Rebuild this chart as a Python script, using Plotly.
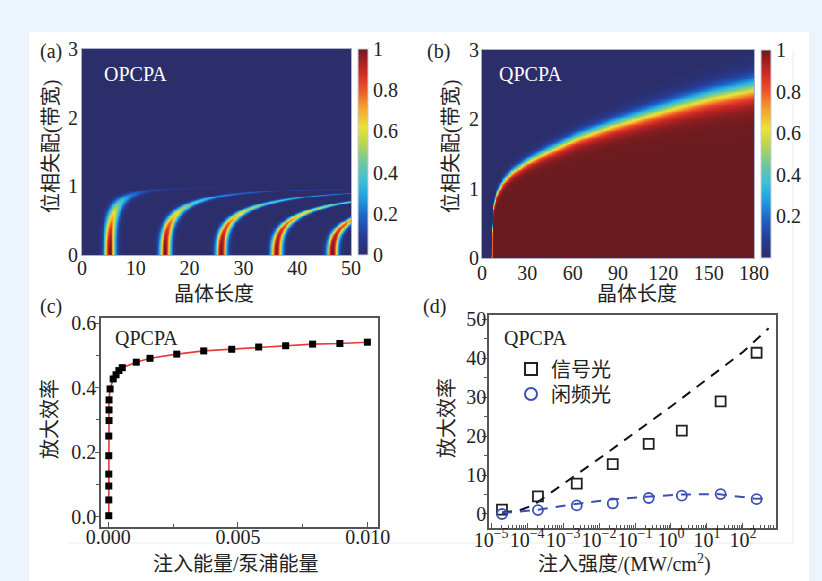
import numpy as np
import plotly.graph_objects as go

W, H = 822, 581

# ---------------- data ----------------
# (a) OPCPA map: positions of the conversion maxima (crystal length) at zero mismatch
a_band_L0 = [5.1, 15.4, 25.8, 36.1, 46.5]
a_band_w0 = 1.0          # half width of a band at zero mismatch
a_dk_crit = 1.0          # mismatch where bands run away
a_x_ticks = [0, 10, 20, 30, 40, 50]
a_y_ticks = [0, 1, 2, 3]

# (b) QPCPA map: boundary of the saturated (≈1) region, read along its edge
b_edge_L = [6.0, 6.3, 6.8, 7.6, 8.8, 10.6, 14.0, 19.4, 30.0, 41.5, 63.5, 85.6, 107.7, 129.7, 151.8, 180.0]
b_edge_dk = [0.0, 0.35, 0.60, 0.76, 0.88, 0.98, 1.11, 1.24, 1.40, 1.53, 1.75, 1.92, 2.07, 2.21, 2.34, 2.47]
b_x_ticks = [0, 30, 60, 90, 120, 150, 180]
b_y_ticks = [0, 1, 2, 3]

# (c) efficiency vs seed/pump energy ratio
c_ratio = [0.00002, 0.00002, 0.00002, 0.00002, 0.00002, 0.00002, 0.00003, 0.00003, 0.00003,
           0.00007, 0.00019, 0.00030, 0.00041, 0.00054, 0.00108, 0.00161, 0.00264, 0.00368,
           0.00476, 0.00580, 0.00684, 0.00788, 0.00893, 0.00999]
c_eff = [0.003, 0.052, 0.095, 0.132, 0.189, 0.250, 0.298, 0.331, 0.362,
         0.396, 0.427, 0.440, 0.453, 0.462, 0.479, 0.491, 0.504, 0.514,
         0.519, 0.526, 0.530, 0.535, 0.537, 0.541]

# (d) efficiency vs seed intensity
d_int = [2.0e-5, 2.0e-4, 2.4e-3, 2.4e-2, 2.4e-1, 2.0, 24.0, 240.0]
d_signal = [1.1, 4.5, 7.8, 12.8, 18.0, 21.4, 28.9, 41.4]
d_idler = [0.0, 1.0, 2.2, 2.7, 4.1, 4.7, 5.1, 3.8]
d_sim_sig_x = [2.0e-5, 6.0e-5, 1.5e-4, 1.0e-3, 1.0e-2, 1.0e-1, 1.0, 10.0, 100.0, 520.0]
d_sim_sig_y = [0.4, 0.9, 2.3, 7.6, 14.2, 20.9, 27.6, 34.6, 41.6, 47.7]
d_sim_idl_x = [2.0e-5, 6.0e-5, 2.0e-4, 2.0e-3, 2.0e-2, 2.0e-1, 2.0, 20.0, 200.0, 520.0]
d_sim_idl_y = [0.2, 0.6, 1.1, 2.5, 3.7, 4.4, 5.0, 5.1, 4.0, 3.8]
d_x_tickvals = [1e-5, 1e-4, 1e-3, 1e-2, 1e-1, 1e0, 1e1, 1e2]
d_x_ticktext = ['10<sup>−5</sup>', '10<sup>−4</sup>', '10<sup>−3</sup>', '10<sup>−2</sup>',
                '10<sup>−1</sup>', '10<sup>0</sup>', '10<sup>1</sup>', '10<sup>2</sup>']

# ---------------- build heat maps ----------------
aL = np.linspace(0, 50, 301)
aK = np.linspace(0, 3, 241)
LL, KK = np.meshgrid(aL, aK)
r = np.clip(KK / a_dk_crit, 0, 0.9995)
g = 1.0 / np.sqrt(1.0 - r ** 3)
amp = np.clip(1.0 - (KK / a_dk_crit) ** 2, 0, 1)
za = np.zeros_like(LL)
for L0 in a_band_L0:
    za += amp * np.exp(-((LL - L0 * g) / (a_band_w0 * g)) ** 2)
za = np.clip(za, 0, 1)
za[KK >= a_dk_crit] = 0
za = np.round(za, 3)

bL = np.linspace(0, 180, 361)
bK = np.linspace(0, 3, 241)
BL, BK = np.meshgrid(bL, bK)
edge = np.interp(BL, b_edge_L, b_edge_dk)
wk = 0.03 + 0.0004 * BL
zb = 1.0 / (1.0 + np.exp((BK - edge) / wk))
zb *= 1.0 / (1.0 + np.exp(-(BL - 6.1) / 0.3))
zb = np.round(zb, 3)

jet = [[0.0, '#2b2e6a'], [0.08, '#273a90'], [0.18, '#1f5fc2'], [0.28, '#229fe0'],
       [0.36, '#3cbfd6'], [0.45, '#70c89e'], [0.55, '#bcd84a'], [0.62, '#ece23a'],
       [0.72, '#f49e2a'], [0.80, '#ec5628'], [0.88, '#d52a26'], [0.95, '#9e1f22'],
       [1.0, '#6b1b1f']]

SERIF = 'Liberation Serif, Times New Roman, Noto Sans CJK SC, serif'
TXT = '#222222'


def px_x(p):
    return p / W


def px_y(p):
    return 1 - p / H


fig = go.Figure()

# (a)
fig.add_trace(go.Heatmap(
    x=aL, y=aK, z=za, colorscale=jet, zmin=0, zmax=1, zsmooth='best',
    xaxis='x', yaxis='y',
    colorbar=dict(x=px_x(358), xanchor='left', xpad=0, ypad=0, thickness=10,
                  len=206 / H, lenmode='fraction', y=(px_y(49) + px_y(255)) / 2, yanchor='middle',
                  tickvals=[0, 0.2, 0.4, 0.6, 0.8, 1], ticktext=['0', '0.2', '0.4', '0.6', '0.8', '1'],
                  ticks='', outlinewidth=1, outlinecolor='#c8cdd8',
                  tickfont=dict(family=SERIF, size=20, color=TXT))))
# (b)
fig.add_trace(go.Heatmap(
    x=bL, y=bK, z=zb, colorscale=jet, zmin=0, zmax=1, zsmooth='best',
    xaxis='x2', yaxis='y2',
    colorbar=dict(x=px_x(761), xanchor='left', xpad=0, ypad=0, thickness=10,
                  len=208 / H, lenmode='fraction', y=(px_y(50) + px_y(258)) / 2, yanchor='middle',
                  tickvals=[0.2, 0.4, 0.6, 0.8, 1], ticktext=['0.2', '0.4', '0.6', '0.8', '1'],
                  ticks='', outlinewidth=1, outlinecolor='#c8cdd8',
                  tickfont=dict(family=SERIF, size=20, color=TXT))))

# (c)
fig.add_trace(go.Scatter(x=c_ratio, y=c_eff, mode='lines+markers', xaxis='x3', yaxis='y3',
                         line=dict(color='#e8393c', width=1.6),
                         marker=dict(symbol='square', size=7, color='#000000'),
                         showlegend=False))

# (d)
fig.add_trace(go.Scatter(x=d_sim_sig_x, y=d_sim_sig_y, mode='lines', xaxis='x4', yaxis='y4',
                         line=dict(color='#111111', width=2, dash='10px,8px'), showlegend=False))
fig.add_trace(go.Scatter(x=d_sim_idl_x, y=d_sim_idl_y, mode='lines', xaxis='x4', yaxis='y4',
                         line=dict(color='#3c50b4', width=2, dash='10px,8px'), showlegend=False))
fig.add_trace(go.Scatter(x=d_int, y=d_signal, mode='markers', xaxis='x4', yaxis='y4', name='信号光',
                         legend='legend',
                         marker=dict(symbol='square-open', size=10, color='#222222', line=dict(width=1.8))))
fig.add_trace(go.Scatter(x=d_int, y=d_idler, mode='markers', xaxis='x4', yaxis='y4', name='闲频光',
                         legend='legend2',
                         marker=dict(symbol='circle-open', size=10, color='#3c50b4', line=dict(width=1.8))))

tickfont = dict(family=SERIF, size=20, color=TXT)
heat_axis = dict(showline=True, mirror=True, linecolor='#aab2c8', linewidth=1, ticks='',
                 showgrid=False, zeroline=False, tickfont=tickfont, tickangle=0, automargin=False)
frame = dict(showline=True, mirror=True, linecolor='#555555', linewidth=1.5,
             showgrid=False, zeroline=False, tickfont=tickfont, tickcolor='#555555', tickwidth=1.2,
             tickangle=0, automargin=False)

minor_log = []
for e in range(-6, 3):
    for k in range(2, 10):
        minor_log.append(k * 10.0 ** e)

leg_common = dict(xanchor='left', yanchor='middle', bgcolor='rgba(0,0,0,0)',
                  font=dict(family=SERIF, size=20, color=TXT), itemsizing='constant')

fig.update_layout(
    width=W, height=H, margin=dict(l=0, r=0, t=0, b=0, pad=0, autoexpand=False),
    paper_bgcolor='#ecf4fd', plot_bgcolor='#ffffff',
    xaxis=dict(domain=[px_x(82), px_x(351)], range=[0, 50], tickvals=a_x_ticks, anchor='y',
               ticklabelstandoff=-5, **heat_axis),
    yaxis=dict(domain=[px_y(255), px_y(49)], range=[0, 3], tickvals=a_y_ticks, anchor='x',
               ticklabelstandoff=-1, **heat_axis),
    xaxis2=dict(domain=[px_x(482), px_x(754)], range=[0, 180], tickvals=b_x_ticks, anchor='y2',
                ticklabelstandoff=-3, **heat_axis),
    yaxis2=dict(domain=[px_y(258), px_y(50)], range=[0, 3], tickvals=b_y_ticks, anchor='x2',
                ticklabelstandoff=-2, **heat_axis),
    xaxis3=dict(domain=[px_x(101), px_x(378)], range=[-0.00028, 0.0104], anchor='y3',
                tickvals=[0, 0.005, 0.01], ticktext=['0.000', '0.005', '0.010'],
                ticks='inside', ticklen=5, ticklabelstandoff=-9,
                minor=dict(tickvals=[0.0025, 0.0075], ticks='inside', ticklen=3, tickcolor='#555555'),
                **frame),
    yaxis3=dict(domain=[px_y(527), px_y(318)], range=[-0.032, 0.616], anchor='x3',
                tickvals=[0, 0.2, 0.4, 0.6], ticktext=['0.0', '0.2', '0.4', '0.6'],
                ticks='outside', ticklen=4, ticklabelstandoff=-5,
                minor=dict(tickvals=[0.1, 0.3, 0.5], ticks='outside', ticklen=3, tickcolor='#555555'),
                **frame),
    xaxis4=dict(domain=[px_x(489), px_x(776)], type='log', range=[-5.06, 2.92], anchor='y4',
                tickvals=d_x_tickvals, ticktext=d_x_ticktext, ticks='inside', ticklen=5,
                ticklabelstandoff=-7,
                minor=dict(tickvals=minor_log, ticks='inside', ticklen=3, tickcolor='#555555'),
                **frame),
    yaxis4=dict(domain=[px_y(528), px_y(315)], range=[-3.6, 51.1], anchor='x4',
                tickvals=[0, 10, 20, 30, 40, 50], ticks='outside', ticklen=5, ticklabelstandoff=-8,
                minor=dict(tickvals=[5, 15, 25, 35, 45], ticks='outside', ticklen=3, tickcolor='#555555'),
                **frame),
    legend=dict(x=px_x(511), y=px_y(369), **leg_common),
    legend2=dict(x=px_x(511), y=px_y(394), **leg_common),
    shapes=[
        dict(type='rect', xref='paper', yref='paper', x0=px_x(29), x1=px_x(809), y0=0, y1=px_y(32),
             fillcolor='#ffffff', line=dict(width=0), layer='below'),
        dict(type='line', xref='paper', yref='paper', x0=px_x(68), x1=px_x(793), y0=px_y(543), y1=px_y(543),
             line=dict(color='#ececec', width=1), layer='below'),
        dict(type='line', xref='paper', yref='paper', x0=px_x(793), x1=px_x(793), y0=px_y(543), y1=px_y(50),
             line=dict(color='#ececec', width=1), layer='below'),
    ],
)

ann = []


def text(x, y, s, size=20, color=TXT, angle=0, xanchor='center'):
    ann.append(dict(x=px_x(x), y=px_y(y), xref='paper', yref='paper', text=s, showarrow=False,
                    font=dict(family=SERIF, size=size, color=color), textangle=angle,
                    xanchor=xanchor, yanchor='middle'))


text(51, 52, '(a)')
text(438, 52, '(b)')
text(51, 306, '(c)')
text(435, 306, '(d)')
text(102, 74, 'OPCPA', color='#ffffff', xanchor='left')
text(497, 74, 'QPCPA', color='#ffffff', xanchor='left')
text(113, 338, 'QPCPA', xanchor='left')
text(502, 338, 'QPCPA', xanchor='left')
text(51, 147, '位相失配(带宽)', angle=-90)
text(451, 147, '位相失配(带宽)', angle=-90)
text(214, 294, '晶体长度')
text(637, 294, '晶体长度')
text(50, 419, '放大效率', angle=-90)
text(447, 418, '放大效率', angle=-90)
text(236, 564, '注入能量/泵浦能量')
text(624, 563, '注入强度/(MW/cm<sup>2</sup>)')
fig.update_layout(annotations=ann)

fig.write_html('out.html')
